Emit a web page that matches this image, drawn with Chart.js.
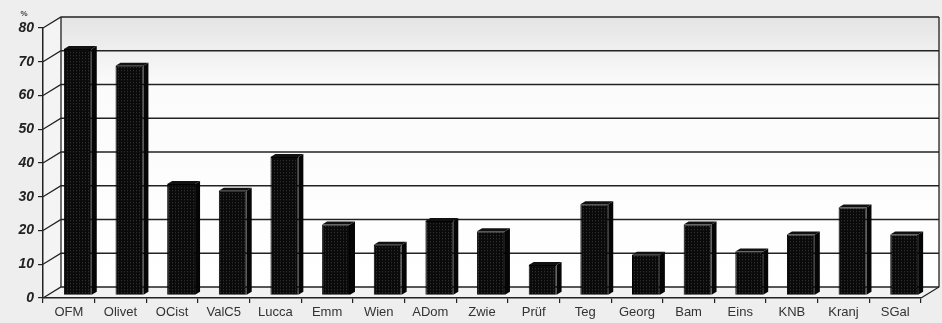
<!DOCTYPE html>
<html>
<head>
<meta charset="utf-8">
<script src="https://cdn.jsdelivr.net/npm/chart.js@4/dist/chart.umd.min.js"></script>
<style>
  html, body { margin: 0; padding: 0; background: #eeeeee; }
  #wrap { width: 942px; height: 323px; }
</style>
</head>
<body>
<div id="wrap"><canvas id="orden"></canvas></div>
<script>
var ordenes = ["OFM", "Olivet", "OCist", "ValC5", "Lucca", "Emm", "Wien", "ADom", "Zwie",
               "Prüf", "Teg", "Georg", "Bam", "Eins", "KNB", "Kranj", "SGal"];
var porcentaje = [73, 68, 33, 31, 41, 21, 15, 22, 19, 9, 27, 12, 21, 13, 18, 26, 18];
var ticksY = [0, 10, 20, 30, 40, 50, 60, 70, 80];

// depth of the 3d box
var DX = 18, DY = -11;

// dotted black fill like the old excel bars
var pc = document.createElement('canvas');
pc.width = 3; pc.height = 3;
var pctx = pc.getContext('2d');
pctx.fillStyle = '#0a0a0a';
pctx.fillRect(0, 0, 3, 3);
pctx.fillStyle = '#3a3a3a';
pctx.fillRect(1, 1, 1, 1);
var dots = pctx.createPattern(pc, 'repeat');

var caja3d = {
    id: 'caja3d',
    beforeDraw: function(chart) {
        var ctx = chart.ctx, a = chart.chartArea;
        var y = chart.scales.y;
        ctx.save();
        ctx.fillStyle = '#eeeeee';
        ctx.fillRect(0, 0, chart.width, chart.height);
        // back wall
        var g = ctx.createLinearGradient(0, a.top + DY, 0, a.bottom + DY);
        g.addColorStop(0, '#e4e4e4');
        g.addColorStop(0.25, '#fbfbfb');
        g.addColorStop(1, '#ffffff');
        ctx.fillStyle = g;
        ctx.fillRect(a.left + DX, a.top + DY, a.right - a.left, a.bottom - a.top);
        // left side wall
        ctx.fillStyle = '#f4f4f4';
        ctx.beginPath();
        ctx.moveTo(a.left, a.top); ctx.lineTo(a.left + DX, a.top + DY);
        ctx.lineTo(a.left + DX, a.bottom + DY); ctx.lineTo(a.left, a.bottom);
        ctx.closePath(); ctx.fill();
        // floor
        ctx.fillStyle = '#f2f2f2';
        ctx.beginPath();
        ctx.moveTo(a.left, a.bottom); ctx.lineTo(a.right, a.bottom);
        ctx.lineTo(a.right + DX, a.bottom + DY); ctx.lineTo(a.left + DX, a.bottom + DY);
        ctx.closePath(); ctx.fill();

        ctx.strokeStyle = '#222';
        ctx.lineWidth = 1.3;
        ticksY.forEach(function(v) {
            var py = y.getPixelForValue(v);
            ctx.beginPath();
            ctx.moveTo(a.left, py);
            ctx.lineTo(a.left + DX, py + DY);
            ctx.lineTo(a.right + DX, py + DY);
            ctx.stroke();
        });
        ctx.beginPath();
        ctx.moveTo(a.left + DX, a.top + DY); ctx.lineTo(a.left + DX, a.bottom + DY);
        ctx.moveTo(a.right + DX, a.top + DY); ctx.lineTo(a.right + DX, a.bottom + DY);
        ctx.lineTo(a.right, a.bottom);
        ctx.stroke();

        ctx.fillStyle = '#444';
        ctx.font = 'bold 8px "Liberation Sans", Arial, sans-serif';
        ctx.textAlign = 'center';
        ctx.fillText('%', a.left - 19, a.top - 12);
        ctx.restore();
    },
    beforeDatasetsDraw: function(chart) {
        chart.ctx.save();
        chart.ctx.translate(DX / 2, DY / 4);
    },
    afterDatasetsDraw: function(chart) {
        var ctx = chart.ctx;
        var d = 5, e = -3;
        chart.getDatasetMeta(0).data.forEach(function(bar) {
            var l = bar.x - bar.width / 2, r = bar.x + bar.width / 2;
            ctx.fillStyle = '#050505';
            ctx.beginPath();
            ctx.moveTo(r, bar.y); ctx.lineTo(r + d, bar.y + e);
            ctx.lineTo(r + d, bar.base + e); ctx.lineTo(r, bar.base);
            ctx.closePath(); ctx.fill();
            ctx.fillStyle = '#111';
            ctx.beginPath();
            ctx.moveTo(l, bar.y); ctx.lineTo(l + d, bar.y + e);
            ctx.lineTo(r + d, bar.y + e); ctx.lineTo(r, bar.y);
            ctx.closePath(); ctx.fill();
        });
        ctx.restore();
    }
};

new Chart(document.getElementById('orden'), {
    type: 'bar',
    data: {
        labels: ordenes,
        datasets: [{
            data: porcentaje,
            backgroundColor: dots,
            borderColor: '#000',
            borderWidth: 1,
            categoryPercentage: 1,
            barPercentage: 0.54
        }]
    },
    options: {
        responsive: true,
        maintainAspectRatio: false,
        animation: false,
        layout: { padding: { left: 0, right: 21, top: 28, bottom: 0 } },
        plugins: { legend: { display: false }, tooltip: { enabled: false } },
        scales: {
            x: {
                afterFit: function(s) { s.height = 25; },
                grid: { drawOnChartArea: false, drawTicks: true, tickLength: 5, color: '#222', lineWidth: 1.2 },
                border: { display: true, color: '#222', width: 1.5 },
                ticks: { color: '#333', padding: 2, font: { family: '"Liberation Sans", Arial, sans-serif', size: 13 } }
            },
            y: {
                min: 0, max: 80,
                afterFit: function(s) { s.width = 43; },
                grid: { drawOnChartArea: false, drawTicks: true, tickLength: 5, color: '#222', lineWidth: 1.2 },
                border: { display: true, color: '#222', width: 1.5 },
                ticks: { stepSize: 10, color: '#222', padding: 4,
                         font: { family: '"Liberation Sans", Arial, sans-serif', size: 14, weight: 'bold', style: 'italic' } }
            }
        }
    },
    plugins: [caja3d]
});
</script>
</body>
</html>
